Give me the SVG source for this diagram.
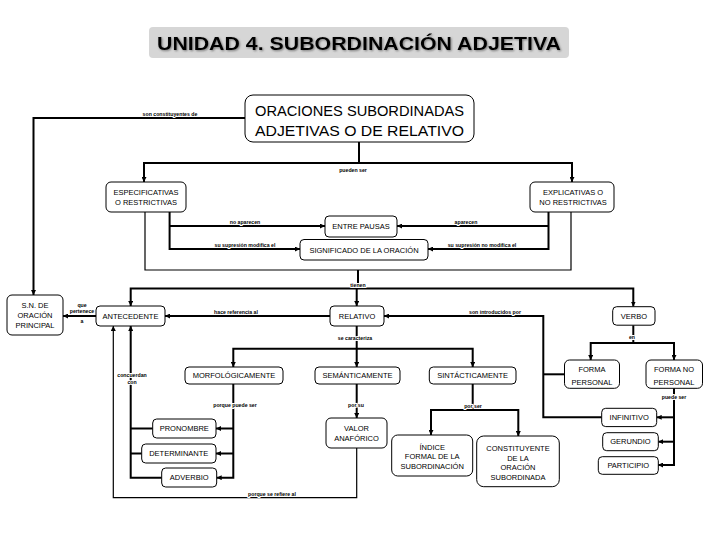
<svg xmlns="http://www.w3.org/2000/svg" width="720" height="540" viewBox="0 0 720 540">
<defs>
<marker id="ar" viewBox="0 0 6 6" refX="6" refY="3" markerWidth="5" markerHeight="5" markerUnits="userSpaceOnUse" orient="auto-start-reverse">
<path d="M0,0 L6,3 L0,6 z" fill="#000"/>
</marker>
<filter id="sh" x="-5%" y="-30%" width="110%" height="160%">
<feDropShadow dx="1" dy="1" stdDeviation="1" flood-color="#555" flood-opacity="0.7"/>
</filter>
<style>
.c{fill:none;stroke:#000;stroke-width:2}
.t{fill:none;stroke:#000;stroke-width:1.2}
.a{marker-end:url(#ar)}
.b{marker-start:url(#ar);marker-end:url(#ar)}
.n rect{fill:#fff;stroke:#000;stroke-width:1}
.n text{font-family:"Liberation Sans",Arial,sans-serif;font-size:7.5px;text-anchor:middle;fill:#000}
.l text{font-family:"Liberation Sans",Arial,sans-serif;font-size:5.2px;font-weight:bold;text-anchor:middle;fill:#000;stroke:#fff;stroke-width:2;paint-order:stroke}
</style>
</defs>
<rect width="720" height="540" fill="#fff"/>

<g id="title">
<rect x="149" y="27" width="420" height="31" rx="4" fill="#d6d6d6"/>
<text x="359" y="50" font-family="'Liberation Sans',Arial,sans-serif" font-weight="bold" font-size="19" text-anchor="middle" textLength="404" lengthAdjust="spacingAndGlyphs" filter="url(#sh)">UNIDAD 4. SUBORDINACIÓN ADJETIVA</text>
</g>

<g id="connectors">
<path class="c a" d="M245,118 H33.5 V295"/>
<path class="c a" d="M359,142 V163 H144 V182"/>
<path class="c a" d="M359,163 H572 V182"/>
<path class="t" d="M145,212 V270 H571 V212"/>
<path class="c" d="M358,270 V288.5"/>
<path class="c a" d="M169.6,212 V249 H300"/>
<path class="c a" d="M169.6,226 H325"/>
<path class="c a" d="M548.5,212 V249 H428"/>
<path class="c a" d="M548.5,226 H397"/>
<path class="c b" d="M130.7,306 V288.5 H633.3 V306.5"/>
<path class="c a" d="M356.7,288.5 V306"/>
<path class="c a" d="M330,316 H165"/>
<path class="c a" d="M96,316 H63"/>
<path class="c a" d="M601.7,417.3 H543.3 V316 H384"/>
<path class="c" d="M543.3,374.3 H564.5"/>
<path class="c" d="M633.3,325.2 V343"/>
<path class="c b" d="M590.7,360 V343 H674 V360"/>
<path class="c a" d="M674,388.3 V465 H658"/>
<path class="c a" d="M674,417.3 H656.7"/>
<path class="c a" d="M674,441.7 H658.3"/>
<path class="c a" d="M356.7,326 V367"/>
<path class="c b" d="M233.3,367 V348.7 H472.7 V367"/>
<path class="c a" d="M356.7,384 V418"/>
<path class="t a" d="M356.7,448 V497.7 H113.3 V326"/>
<path class="c" d="M472.7,384 V410"/>
<path class="c b" d="M431,435 V410 H518.3 V436"/>
<path class="c a" d="M233.3,384 V477.7 H216.7"/>
<path class="c a" d="M233.3,428.5 H216"/>
<path class="c a" d="M233.3,453.5 H216"/>
<path class="c a" d="M161.7,477.7 H130.7 V326"/>
<path class="c" d="M152.7,428.5 H130.7"/>
<path class="c" d="M141.7,453.5 H130.7"/>
</g>

<g id="labels" class="l">
<text x="170" y="116">son constituyentes de</text>
<text x="353" y="172">pueden ser</text>
<text x="245" y="224">no aparecen</text>
<text x="245" y="246.5">su supresión modifica el</text>
<text x="466" y="223.5">aparecen</text>
<text x="482" y="246.5">su supresión no modifica el</text>
<text x="358" y="286.5">tienen</text>
<text x="82" y="306.5">que</text>
<text x="82" y="312.5">pertenece</text>
<text x="82" y="322.5">a</text>
<text x="236" y="313.5">hace referencia al</text>
<text x="495" y="313.5">son introducidos por</text>
<text x="632" y="338.5">en</text>
<text x="355" y="340">se caracteriza</text>
<text x="674" y="399">puede ser</text>
<text x="132" y="376.5">concuerdan</text>
<text x="132" y="383.5">con</text>
<text x="235" y="406.5">porque puede ser</text>
<text x="356" y="406.5">por su</text>
<text x="473" y="408">por ser</text>
<text x="272" y="495.5">porque se refiere al</text>
</g>

<g id="n-main" class="n">
<rect x="245" y="95" width="229" height="47" rx="8"/>
<text x="359.5" y="115.5" style="font-size:14.5px" textLength="209" lengthAdjust="spacingAndGlyphs">ORACIONES SUBORDINADAS</text>
<text x="359.5" y="136" style="font-size:14.5px" textLength="209" lengthAdjust="spacingAndGlyphs">ADJETIVAS O DE RELATIVO</text>
</g>
<g id="n-especificativas" class="n">
<rect x="106" y="182" width="80" height="30" rx="5"/>
<text x="146" y="195">ESPECIFICATIVAS</text>
<text x="146" y="204.5">O RESTRICTIVAS</text>
</g>
<g id="n-explicativas" class="n">
<rect x="530" y="182" width="84" height="30" rx="5"/>
<text x="573" y="195">EXPLICATIVAS O</text>
<text x="573" y="204.5">NO RESTRICTIVAS</text>
</g>
<g id="n-pausas" class="n">
<rect x="325" y="216" width="72" height="21" rx="4"/>
<text x="361" y="229.3">ENTRE PAUSAS</text>
</g>
<g id="n-significado" class="n">
<rect x="300" y="239.5" width="128" height="20.5" rx="4"/>
<text x="364" y="252.5">SIGNIFICADO DE LA ORACIÓN</text>
</g>
<g id="n-sn" class="n">
<rect x="7" y="295" width="56" height="40" rx="5"/>
<text x="35" y="308">S.N. DE</text>
<text x="35" y="318">ORACIÓN</text>
<text x="35" y="327.5">PRINCIPAL</text>
</g>
<g id="n-antecedente" class="n">
<rect x="96" y="306" width="69" height="20" rx="4"/>
<text x="130.5" y="318.7">ANTECEDENTE</text>
</g>
<g id="n-relativo" class="n">
<rect x="330" y="306" width="54" height="20" rx="4"/>
<text x="357" y="318.7">RELATIVO</text>
</g>
<g id="n-verbo" class="n">
<rect x="612.7" y="306.7" width="42.3" height="18.5" rx="4"/>
<text x="634" y="318.7">VERBO</text>
</g>
<g id="n-morfo" class="n">
<rect x="185" y="367" width="98" height="17" rx="4"/>
<text x="234" y="378.3">MORFOLÓGICAMENTE</text>
</g>
<g id="n-semantico" class="n">
<rect x="315" y="367" width="85" height="17" rx="4"/>
<text x="357.5" y="378.3">SEMÁNTICAMENTE</text>
</g>
<g id="n-sintactico" class="n">
<rect x="429.3" y="367" width="86.7" height="17" rx="4"/>
<text x="472.7" y="378.3">SINTÁCTICAMENTE</text>
</g>
<g id="n-forma-personal" class="n">
<rect x="564.5" y="360" width="55" height="28.3" rx="5"/>
<text x="592" y="372">FORMA</text>
<text x="592" y="384.5">PERSONAL</text>
</g>
<g id="n-forma-no-personal" class="n">
<rect x="646" y="360" width="56.5" height="28.3" rx="5"/>
<text x="674" y="372">FORMA NO</text>
<text x="674" y="384.5">PERSONAL</text>
</g>
<g id="n-pronombre" class="n">
<rect x="152.7" y="419" width="63.3" height="19" rx="4"/>
<text x="184.3" y="431.2">PRONOMBRE</text>
</g>
<g id="n-determinante" class="n">
<rect x="141.7" y="444" width="74.3" height="19" rx="4"/>
<text x="178.8" y="456.2">DETERMINANTE</text>
</g>
<g id="n-adverbio" class="n">
<rect x="161.7" y="468" width="55" height="19" rx="4"/>
<text x="189.2" y="480.2">ADVERBIO</text>
</g>
<g id="n-valor" class="n">
<rect x="326" y="418" width="61" height="30" rx="5"/>
<text x="356.5" y="431">VALOR</text>
<text x="356.5" y="440.5">ANAFÓRICO</text>
</g>
<g id="n-indice" class="n">
<rect x="391.7" y="435" width="81" height="41" rx="6"/>
<text x="432.2" y="449.5">ÍNDICE</text>
<text x="432.2" y="459">FORMAL DE LA</text>
<text x="432.2" y="468.5">SUBORDINACIÓN</text>
</g>
<g id="n-constituyente" class="n">
<rect x="476.7" y="436" width="82.6" height="50.7" rx="7"/>
<text x="518" y="451">CONSTITUYENTE</text>
<text x="518" y="460.5">DE LA</text>
<text x="518" y="470">ORACIÓN</text>
<text x="518" y="479.5">SUBORDINADA</text>
</g>
<g id="n-infinitivo" class="n">
<rect x="601.7" y="408.3" width="55" height="18.3" rx="4"/>
<text x="629.2" y="420.2">INFINITIVO</text>
</g>
<g id="n-gerundio" class="n">
<rect x="602.7" y="432.7" width="55.6" height="18" rx="4"/>
<text x="630.5" y="444.4">GERUNDIO</text>
</g>
<g id="n-participio" class="n">
<rect x="598.3" y="456.7" width="60" height="17.6" rx="4"/>
<text x="628.3" y="468.2">PARTICIPIO</text>
</g>
</svg>
